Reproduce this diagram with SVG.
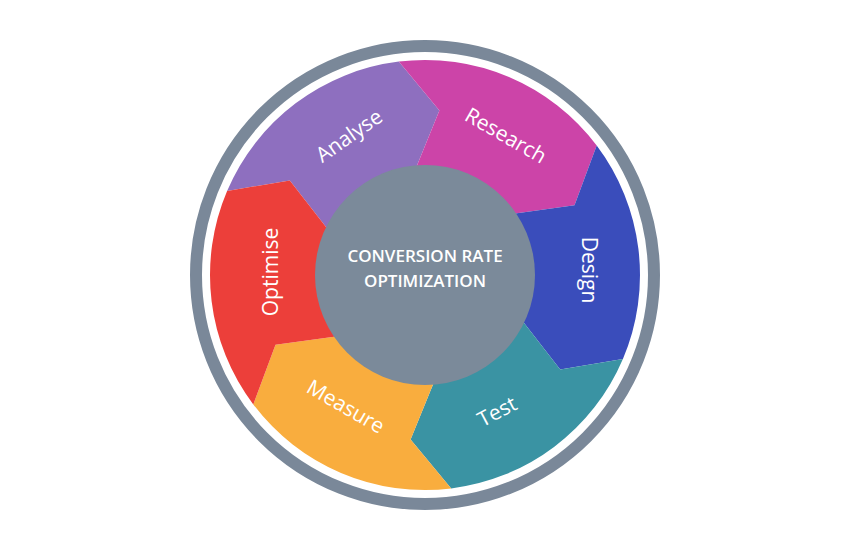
<svg xmlns="http://www.w3.org/2000/svg" width="850" height="550" viewBox="0 0 850 550">
<style>
.lbl{font-family:"Open Sans",sans-serif;font-size:21px;fill:#fff;text-anchor:middle;dominant-baseline:middle}
.ctr{font-family:"Open Sans",sans-serif;font-size:17px;fill:#fff;text-anchor:middle;font-weight:600}
</style>
<rect width="850" height="550" fill="#fff"/>
<circle cx="425" cy="275" r="229" fill="#fff" stroke="#7a8899" stroke-width="12"/>
<g id="analyse"><path d="M227.1,191 A215,215 0 0 1 398.8,61.6 L439.4,110.6 L412.8,175.7 L333,235.9 L289.8,180.4 Z" fill="#8e6fbf"/><text class="lbl" transform="translate(350,137) rotate(-35)">Analyse</text></g>
<g id="research"><path d="M398.8,61.6 A215,215 0 0 1 596.7,145.6 L574.5,205.3 L504.9,214.8 L412.8,175.7 L439.4,110.6 Z" fill="#cc44a8"/><text class="lbl" transform="translate(505,137) rotate(30)">Research</text></g>
<g id="design"><path d="M596.7,145.6 A215,215 0 0 1 622.9,359 L560.2,369.6 L517.1,314.1 L504.9,214.8 L574.5,205.3 Z" fill="#3a4dbb"/><text class="lbl" transform="translate(588,270) rotate(90)">Design</text></g>
<g id="test"><path d="M622.9,359 A215,215 0 0 1 451.2,488.4 L410.6,439.4 L437.2,374.3 L517.1,314.1 L560.2,369.6 Z" fill="#3a93a3"/><text class="lbl" transform="translate(498,413) rotate(-28)">Test</text></g>
<g id="measure"><path d="M451.2,488.4 A215,215 0 0 1 253.3,404.4 L275.5,344.7 L345.1,335.2 L437.2,374.3 L410.6,439.4 Z" fill="#f9ad3e"/><text class="lbl" transform="translate(345,408) rotate(30)">Measure</text></g>
<g id="optimise"><path d="M253.3,404.4 A215,215 0 0 1 227.1,191 L289.8,180.4 L333,235.9 L345.1,335.2 L275.5,344.7 Z" fill="#ec3f3a"/><text class="lbl" transform="translate(272,272) rotate(-90)">Optimise</text></g>
<g id="center"><circle cx="425" cy="275" r="110" fill="#7b8a9a"/><text class="ctr" x="425" y="262">CONVERSION RATE</text><text class="ctr" x="425" y="287">OPTIMIZATION</text></g>
</svg>
